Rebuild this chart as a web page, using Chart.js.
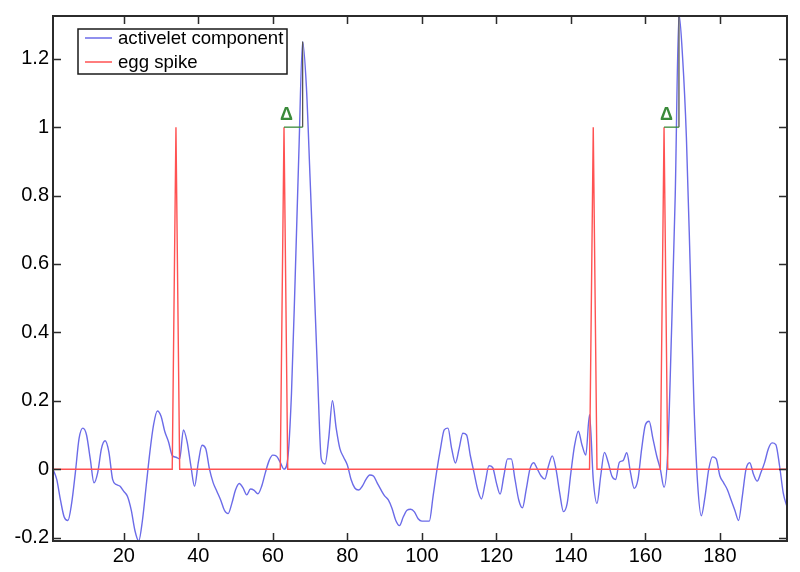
<!DOCTYPE html>
<html>
<head>
<meta charset="utf-8">
<script src="https://cdn.jsdelivr.net/npm/chart.js@4.4.1/dist/chart.umd.min.js"></script>
<style>
  html, body { margin: 0; padding: 0; background: #fff; }
  #wrap { width: 800px; height: 572px; }
</style>
</head>
<body>
<div id="wrap"><canvas id="chart" width="800" height="572"></canvas></div>
<script>
// sample index on the x axis
const sampleIdx = Array.from({ length: 198 }, (_, i) => i + 1);

// activelet component (blue), one value per sample
const activelet = [
  0.00, -0.03, -0.09, -0.14, -0.15, -0.10, -0.01, 0.09, 0.12, 0.10,
  0.03, -0.04, -0.01, 0.06, 0.083, 0.05, -0.03, -0.045, -0.05, -0.065,
  -0.08, -0.12, -0.18, -0.21, -0.15, -0.05, 0.05, 0.13, 0.17, 0.155,
  0.11, 0.08, 0.04, 0.035, 0.03, 0.115, 0.08, 0.01, -0.05, 0.02,
  0.07, 0.06, 0.0, -0.04, -0.065, -0.09, -0.12, -0.13, -0.10, -0.06,
  -0.042, -0.055, -0.075, -0.058, -0.062, -0.072, -0.05, -0.01, 0.025, 0.041,
  0.038, 0.02, 0.0, 0.03, 0.22, 0.56, 0.93, 1.25, 1.12, 0.85,
  0.57, 0.28, 0.03, 0.015, 0.09, 0.2, 0.12, 0.06, 0.035, 0.012,
  -0.03, -0.055, -0.061, -0.05, -0.03, -0.017, -0.02, -0.04, -0.06, -0.078,
  -0.09, -0.115, -0.15, -0.165, -0.14, -0.12, -0.117, -0.125, -0.145, -0.152,
  -0.152, -0.152, -0.08, -0.005, 0.06, 0.115, 0.12, 0.06, 0.018, 0.06,
  0.105, 0.1, 0.04, -0.01, -0.06, -0.087, -0.04, 0.01, 0.005, -0.04,
  -0.073, -0.02, 0.03, 0.03, -0.03, -0.09, -0.113, -0.06, 0.0, 0.019,
  0.0, -0.02, -0.029, 0.01, 0.039, 0.0, -0.07, -0.124, -0.1, -0.01,
  0.07, 0.111, 0.07, 0.041, 0.159, -0.03, -0.10, -0.02, 0.049, 0.02,
  -0.02, -0.03, 0.02, 0.025, 0.048, -0.01, -0.056, -0.03, 0.06, 0.13,
  0.14, 0.09, 0.04, 0.0, -0.053, 0.05, 0.4, 0.8, 1.33, 1.2,
  0.97, 0.6, 0.2, -0.04, -0.136, -0.08, 0.0, 0.036, 0.03, -0.02,
  -0.04, -0.06, -0.09, -0.12, -0.15, -0.08, 0.0, 0.019, -0.015, -0.035,
  -0.01, 0.02, 0.06, 0.077, 0.072, 0.01, -0.07, -0.11
];

// egg spike (red): vertices of the polyline
const eggX = [1, 33, 34, 35, 62, 63, 64, 145, 146, 147, 164, 165, 166, 198];
const eggY = [0, 0, 1, 0, 0, 1, 0, 0, 1, 0, 0, 1, 0, 0];

// delta markers: from spike to activelet peak
const deltaFrom = [63, 165];
const deltaTo = [68, 169];
const deltaTop = [1.25, 1.33];
const deltaLevel = 1;

const seriesNames = ['activelet component', 'egg spike'];
const xTicks = [20, 40, 60, 80, 100, 120, 140, 160, 180];
const yTicks = [-0.2, 0, 0.2, 0.4, 0.6, 0.8, 1, 1.2];
const xMin = 1, xMax = 198;
const yMin = -0.21, yMax = 1.325;

const BLUE = '#6b6be8';
const RED = '#ff5252';
const GREEN = '#3a8a3a';
const FONT = '"Liberation Sans", Arial, Helvetica, sans-serif';

const blueData = sampleIdx.map((x, i) => ({ x: x, y: activelet[i] }));
const redData = eggX.map((x, i) => ({ x: x, y: eggY[i] }));

const deltaSets = [];
deltaFrom.forEach((f, i) => {
  deltaSets.push({
    label: 'delta' + i,
    data: [{ x: f, y: deltaLevel }, { x: deltaTo[i], y: deltaLevel }],
    borderColor: GREEN, borderWidth: 1.3, pointRadius: 0, order: -1
  });
  deltaSets.push({
    label: 'lag' + i,
    data: [{ x: deltaTo[i], y: deltaLevel }, { x: deltaTo[i], y: deltaTop[i] }],
    borderColor: '#555555', borderWidth: 1.3, pointRadius: 0, order: -1
  });
});

// frame + inward ticks on all 4 sides, legend box and delta labels
const framePlugin = {
  id: 'frame',
  afterDraw(chart) {
    const ctx = chart.ctx;
    const a = chart.chartArea;
    const xs = chart.scales.x, ys = chart.scales.y;
    ctx.save();
    ctx.strokeStyle = '#2b2b2b';
    ctx.lineWidth = 2;
    ctx.strokeRect(a.left, a.top, a.right - a.left, a.bottom - a.top);
    ctx.lineWidth = 1.5;
    ctx.beginPath();
    xTicks.forEach(v => {
      const px = Math.round(xs.getPixelForValue(v)) + 0.5;
      ctx.moveTo(px, a.bottom); ctx.lineTo(px, a.bottom - 8);
      ctx.moveTo(px, a.top); ctx.lineTo(px, a.top + 8);
    });
    yTicks.forEach(v => {
      const py = Math.round(ys.getPixelForValue(v)) + 0.5;
      ctx.moveTo(a.left, py); ctx.lineTo(a.left + 8, py);
      ctx.moveTo(a.right, py); ctx.lineTo(a.right - 8, py);
    });
    ctx.stroke();

    // delta labels
    ctx.fillStyle = GREEN;
    ctx.font = 'bold 18px ' + FONT;
    ctx.textAlign = 'center';
    ctx.textBaseline = 'middle';
    deltaFrom.forEach(f => {
      ctx.fillText('\u0394', xs.getPixelForValue(f) + 2.5, ys.getPixelForValue(deltaLevel) - 12);
    });

    // legend
    const lx = a.left + 25, ly = a.top + 13, lw = 209, lh = 45;
    ctx.fillStyle = '#fff';
    ctx.fillRect(lx, ly, lw, lh);
    ctx.strokeStyle = '#1a1a1a';
    ctx.lineWidth = 1.5;
    ctx.strokeRect(lx, ly, lw, lh);
    const cols = [BLUE, RED];
    ctx.font = '18.6px ' + FONT;
    ctx.textAlign = 'left';
    ctx.textBaseline = 'middle';
    seriesNames.forEach((name, i) => {
      const cy = ly + 9 + i * 24;
      ctx.strokeStyle = cols[i];
      ctx.lineWidth = 1.5;
      ctx.beginPath();
      ctx.moveTo(lx + 7, cy); ctx.lineTo(lx + 34, cy);
      ctx.stroke();
      ctx.fillStyle = '#000';
      ctx.fillText(name, lx + 40, cy + 1);
    });
    ctx.restore();
  }
};

new Chart(document.getElementById('chart').getContext('2d'), {
  type: 'line',
  data: {
    datasets: [
      {
        label: seriesNames[0], data: blueData, borderColor: BLUE, borderWidth: 1.4,
        pointRadius: 0, cubicInterpolationMode: 'monotone', order: 2
      },
      {
        label: seriesNames[1], data: redData, borderColor: RED, borderWidth: 1.4,
        pointRadius: 0, tension: 0, order: 1
      },
      ...deltaSets
    ]
  },
  options: {
    responsive: false,
    animation: false,
    devicePixelRatio: 1,
    layout: { padding: { left: 0, top: 14, right: 13, bottom: 0 } },
    plugins: { legend: { display: false }, tooltip: { enabled: false } },
    scales: {
      x: {
        type: 'linear', min: xMin, max: xMax,
        afterBuildTicks: s => { s.ticks = xTicks.map(v => ({ value: v })); },
        afterFit: s => { s.height = 31; },
        grid: { display: false, drawTicks: false },
        border: { display: false },
        ticks: { color: '#000', padding: 3, font: { family: FONT, size: 20 } }
      },
      y: {
        type: 'linear', min: yMin, max: yMax,
        afterBuildTicks: s => { s.ticks = yTicks.map(v => ({ value: v })); },
        afterFit: s => { s.width = 53; },
        grid: { display: false, drawTicks: false },
        border: { display: false },
        ticks: {
          color: '#000', padding: 4, font: { family: FONT, size: 20 },
          callback: v => String(Math.round(v * 10) / 10)
        }
      }
    }
  },
  plugins: [framePlugin]
});
</script>
</body>
</html>
